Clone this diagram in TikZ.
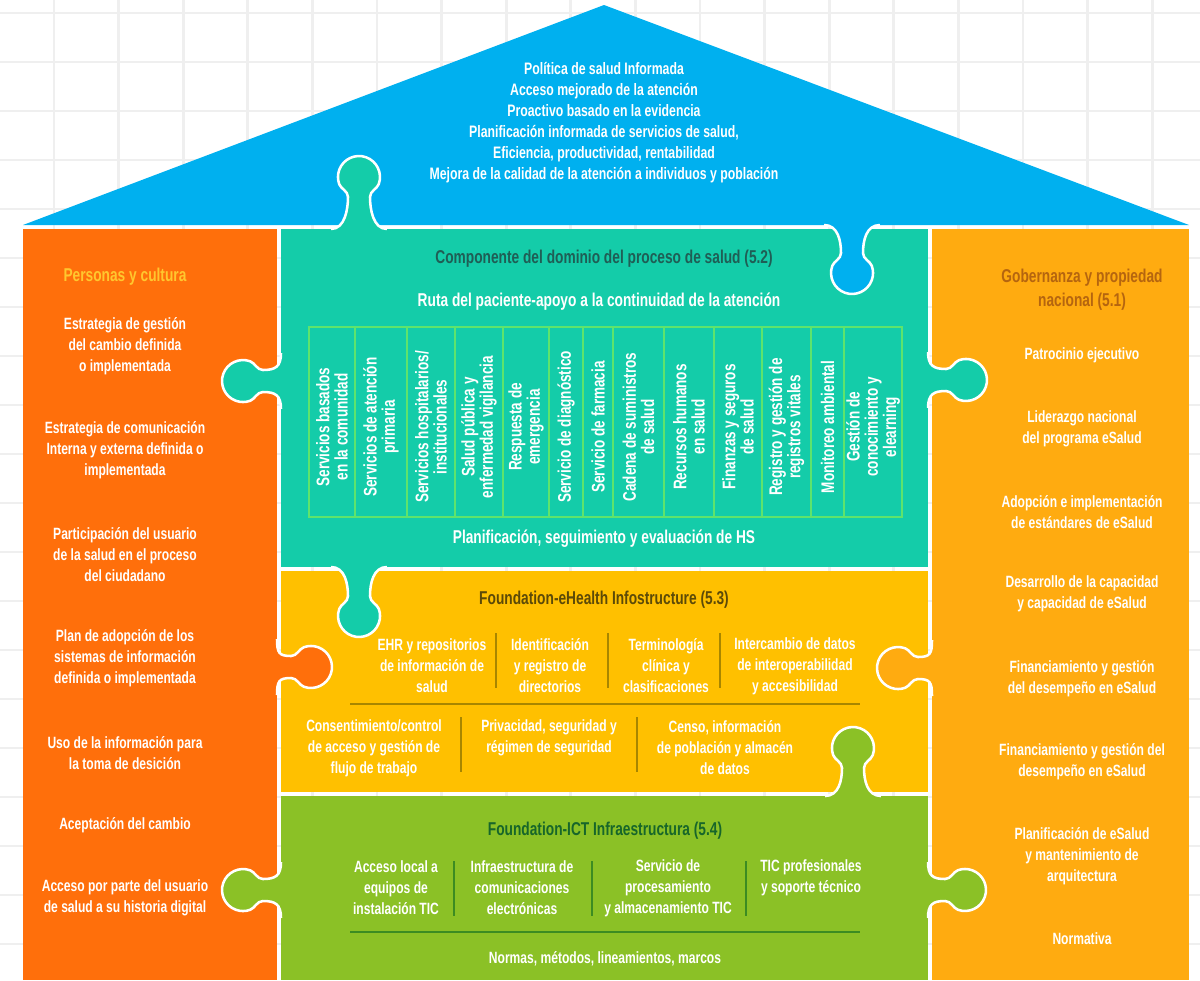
\documentclass[tikz,border=0pt]{standalone}
\usepackage{fontspec}
\setmainfont{Liberation Sans}[FakeStretch=0.74]
\usepackage{tikz}
\definecolor{roofblue}{HTML}{00B0EF}
\definecolor{peopleorange}{HTML}{FF6F0B}
\definecolor{processteal}{HTML}{14CCA9}
\definecolor{infoyellow}{HTML}{FFC000}
\definecolor{ictgreen}{HTML}{8BC126}
\definecolor{govamber}{HTML}{FFAB10}
\definecolor{gridgray}{HTML}{EFEFEF}
\definecolor{tealtitle}{HTML}{1F5E55}
\definecolor{yellowtitle}{HTML}{5C4A08}
\definecolor{greentitle}{HTML}{17662A}
\definecolor{ambertitle}{HTML}{B5650F}
\definecolor{peopletitle}{HTML}{FFC72E}
\definecolor{tablegreen}{HTML}{5FE46C}
\definecolor{yellowrule}{HTML}{A88600}
\definecolor{greenrule}{HTML}{3C8C22}

% puzzle tab: x, y, rotation, colour, distance of the knob
\newcommand{\puzzletab}[5]{%
  \begin{scope}[shift={(#1,#2)},rotate=#3]
    \path[fill=#4,draw=white,line width=1.8pt]
      (-28,0) .. controls (-14,0) and (-11,{#5-32}) .. (-11,{#5-20})
      .. controls (-11,{#5-14}) and (-18,{#5-12}) .. (-19.7,{#5-7.2})
      arc[start angle=200,end angle=-20,radius=21]
      .. controls (18,{#5-12}) and (11,{#5-14}) .. (11,{#5-20})
      .. controls (11,{#5-32}) and (14,0) .. (28,0);
  \end{scope}}

\begin{document}
\begin{tikzpicture}[x=0.025cm,y=-0.025cm,
    item/.style={align=center,text=white,inner sep=0pt,font=\bfseries\fontsize{11.6}{14.9}\selectfont},
    head/.style={item,font=\bfseries\fontsize{13.2}{17}\selectfont},
    rooftext/.style={item,font=\bfseries\fontsize{11.8}{14.9}\selectfont},
    coltext/.style={item,rotate=90,font=\bfseries\fontsize{13}{13}\selectfont},
    rule/.style={line width=1.2pt}]
  \useasboundingbox (0,0) rectangle (1200,980);
  % background grid
  \foreach \i in {0,...,17}
    \draw[gridgray,line width=2pt] ({54+64.6*\i},0) -- ({54+64.6*\i},980);
  \foreach \j in {0,...,19}
    \draw[gridgray,line width=2pt] (0,{13+49*\j}) -- (1200,{13+49*\j});

  % roof and blocks
  \fill[roofblue] (23,225) -- (604,5) -- (1189,225) -- cycle;
  \fill[peopleorange] (23,229) rectangle (277,980);
  \fill[processteal] (281,229) rectangle (928,567);
  \fill[infoyellow] (281,571) rectangle (928,792);
  \fill[ictgreen] (281,796) rectangle (928,980);
  \fill[govamber] (932,229) rectangle (1189,980);

  % tabs
  \puzzletab{359}{229}{180}{processteal}{52}
  \puzzletab{852}{225}{0}{roofblue}{48}
  \puzzletab{281}{381}{-90}{processteal}{38}
  \puzzletab{928}{380}{90}{processteal}{38}
  \puzzletab{359}{567}{0}{processteal}{49}
  \puzzletab{277}{667}{90}{peopleorange}{34}
  \puzzletab{932}{668}{-90}{govamber}{34}
  \puzzletab{853}{796}{180}{ictgreen}{48}
  \puzzletab{281}{890}{-90}{ictgreen}{38}
  \puzzletab{928}{890}{90}{ictgreen}{37}

  % roof text
  \node[rooftext] (roof) at (604,122.5) {Política de salud Informada\\Acceso mejorado de la atención\\Proactivo basado en la evidencia\\Planificación informada de servicios de salud,\\Eficiencia, productividad, rentabilidad\\Mejora de la calidad de la atención a individuos y población};

  % left column
  \node[head,text=peopletitle] (people) at (125,277) {Personas y cultura};
  \node[item] (p1) at (125,346) {Estrategia de gestión\\del cambio definida\\o implementada};
  \node[item] (p2) at (125,450) {Estrategia de comunicación\\Interna y externa definida o\\implementada};
  \node[item] (p3) at (125,555) {Participación del usuario\\de la salud en el proceso\\del ciudadano};
  \node[item] (p4) at (125,658) {Plan de adopción de los\\sistemas de información\\definida o implementada};
  \node[item] (p5) at (125,753) {Uso de la información para\\la toma de desición};
  \node[item] (p6) at (125,825) {Aceptación del cambio};
  \node[item] (p7) at (125,898) {Acceso por parte del usuario\\de salud a su historia digital};

  % right column
  \node[head,text=ambertitle] (gov) at (1082,290) {Gobernanza y propiedad\\nacional (5.1)};
  \node[item] (g1) at (1082,355) {Patrocinio ejecutivo};
  \node[item] (g2) at (1082,429) {Liderazgo nacional\\del programa eSalud};
  \node[item] (g3) at (1082,512) {Adopción e implementación\\de estándares de eSalud};
  \node[item] (g4) at (1082,594) {Desarrollo de la capacidad\\y capacidad de eSalud};
  \node[item] (g5) at (1082,679) {Financiamiento y gestión\\del desempeño en eSalud};
  \node[item] (g6) at (1082,762) {Financiamiento y gestión del\\desempeño en eSalud};
  \node[item] (g7) at (1082,856) {Planificación de eSalud\\y mantenimiento de\\arquitectura};
  \node[item] (g8) at (1082,939) {Normativa};

  % health process block
  \node[head,text=tealtitle] (proc) at (604,259) {Componente del dominio del proceso de salud (5.2)};
  \node[head] (route) at (599,302) {Ruta del paciente-apoyo a la continuidad de la atención};
  \draw[tablegreen,line width=1pt] (309,327) rectangle (902,517);
  \foreach \lx in {355,407,455,503,549,583,613,664,714,762,811,844}
    \draw[tablegreen,line width=1pt] (\lx,327) -- (\lx,517);
  \foreach [count=\i] \cx/\ctext in {332/{Servicios basados\\en la comunidad},
      381/{Servicios de atención\\primaria},
      431/{Servicios hospitalarios/\\institucionales},
      479/{Salud pública y\\enfermedad vigilancia},
      526/{Respuesta de\\emergencia},
      566/{Servicio de diagnóstico},
      598/{Servicio de farmacia},
      638.5/{Cadena de suministros\\de salud},
      689/{Recursos humanos\\en salud},
      738/{Finanzas y seguros\\de salud},
      786.5/{Registro y gestión de\\registros vitales},
      827.5/{Monitoreo ambiental},
      873/{Gestión de\\conocimiento y\\elearning}}
    \node[coltext] (col\i) at (\cx,427) {\ctext};
  \node[head] (plan) at (604,539) {Planificación, seguimiento y evaluación de HS};

  % eHealth infostructure block
  \node[head,text=yellowtitle] (info) at (604,600) {Foundation-eHealth Infostructure (5.3)};
  \node[item] (ehr) at (432,666) {EHR y repositorios\\de información de\\salud};
  \node[item] (ident) at (550,666) {Identificación\\y registro de\\directorios};
  \node[item] (term) at (666,666) {Terminología\\clínica y\\clasificaciones};
  \node[item] (inter) at (795,666) {Intercambio de datos\\de interoperabilidad\\y accesibilidad};
  \foreach \sx in {496,608,720}
    \draw[yellowrule,rule] (\sx,633) -- (\sx,688);
  \draw[yellowrule,rule] (350,704) -- (860,704);
  \node[item] (consent) at (374,748) {Consentimiento/control\\de acceso y gestión de\\flujo de trabajo};
  \node[item] (priv) at (549,737.5) {Privacidad, seguridad y\\régimen de seguridad};
  \node[item] (census) at (725,748) {Censo, información\\de población y almacén\\de datos};
  \foreach \sx in {461,637}
    \draw[yellowrule,rule] (\sx,717) -- (\sx,772);

  % ICT infrastructure block
  \node[head,text=greentitle] (ict) at (605,831) {Foundation-ICT Infraestructura (5.4)};
  \node[item] (local) at (396,888) {Acceso local a\\equipos de\\instalación TIC};
  \node[item] (comms) at (522,888) {Infraestructura de\\comunicaciones\\electrónicas};
  \node[item] (storage) at (668,888) {Servicio de\\procesamiento\\y almacenamiento TIC};
  \node[item] (support) at (811,878) {TIC profesionales\\y soporte técnico};
  \foreach \sx in {454,592,746}
    \draw[greenrule,rule] (\sx,861) -- (\sx,916);
  \draw[greenrule,rule] (350,932) -- (860,932);
  \node[item] (norms) at (605,959) {Normas, métodos, lineamientos, marcos};
\end{tikzpicture}
\end{document}
